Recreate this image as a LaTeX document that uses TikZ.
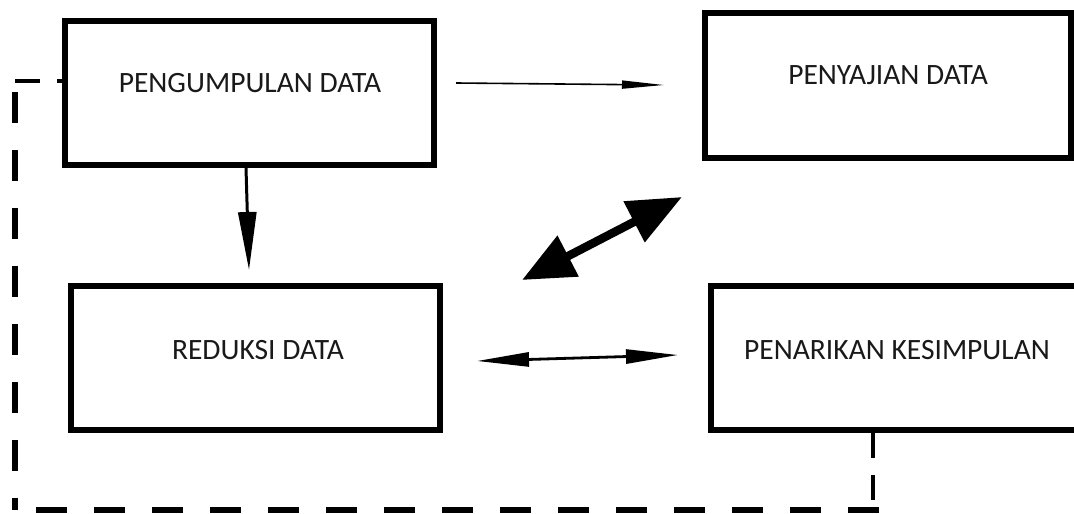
\documentclass[tikz,border=0pt]{standalone}
\usepackage{fontspec}
\setmainfont{Carlito}
\usetikzlibrary{arrows.meta}
\begin{document}
\begin{tikzpicture}[x={(1pt,0)},y={(0,-1pt)},
  box/.style={draw=black,line width=6.3pt,rectangle,inner sep=0pt,fill=white},
  txt/.style={font=\fontsize{29.5}{31}\selectfont,inner sep=0pt,text=black!90},
  thinarrow/.style={line width=1.6pt,-{Triangle[length=42pt,width=8pt]}},
  downarrow/.style={line width=3pt,-{Triangle[length=58pt,width=18pt]}},
  bigarrow/.style={line width=8.5pt,{Triangle[length=52pt,width=44pt]}-{Triangle[length=54pt,width=44pt]}},
  midarrow/.style={line width=2.8pt,{Triangle[length=52pt,width=14pt]}-{Triangle[length=52pt,width=14pt]}},
  fbthin/.style={line width=3.5pt,dash pattern=on 25pt off 17pt},
  fbthick/.style={line width=6pt,dash pattern=on 31pt off 27pt}]
\useasboundingbox (0,0) rectangle (1074,514);
\fill[white] (0,0) rectangle (1074,514);
% boxes
\node[box,minimum width=369pt,minimum height=144pt] (pg) at (249.5,93) {};
\node[box,minimum width=366pt,minimum height=145pt] (ps) at (888,85.5) {};
\node[box,minimum width=369pt,minimum height=144pt] (rd) at (255.5,358) {};
\node[box,minimum width=369pt,minimum height=144pt] (pk) at (895.5,358) {};
% texts
\node[txt] (tpg) at (250,83) {PENGUMPULAN DATA};
\node[txt] (tps) at (888,75) {PENYAJIAN DATA};
\node[txt] (trd) at (258,350) {REDUKSI DATA};
\node[txt] (tpk) at (897,350) {PENARIKAN KESIMPULAN};
% connector end points
\coordinate (a1) at (456,83);
\coordinate (a2) at (664,85);
\coordinate (b1) at (246,168);
\coordinate (b2) at (249,270);
\coordinate (c1) at (522,280);
\coordinate (c2) at (682,197);
\coordinate (d1) at (477,361);
\coordinate (d2) at (678,355);
\coordinate (e0) at (873,433);
\coordinate (e1) at (873,508);
\coordinate (e2) at (879,510);
\coordinate (e3) at (15,510);
\coordinate (e4) at (15,92);
\coordinate (e5) at (15,81);
% connectors
\draw[thinarrow] (a1) -- (a2);
\draw[downarrow] (b1) -- (b2);
\draw[bigarrow] (c1) -- (c2);
\draw[midarrow] (d1) -- (d2);
% feedback dashed loop
\draw[fbthin] (e0) -- (e1);
\draw[fbthick] (e2) -- (e3);
\draw[fbthick] (e4) -- (e3);
\draw[fbthin] (e5) -- (e5 -| pg.west);
\end{tikzpicture}
\end{document}
